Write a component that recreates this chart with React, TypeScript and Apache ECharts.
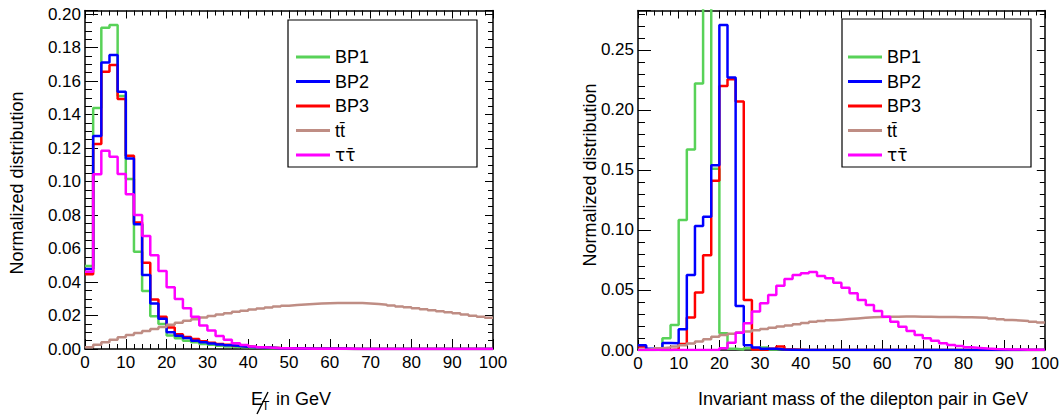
import React, { useEffect, useRef } from "react";
import * as echarts from "echarts";

const FONT = '"Liberation Sans", Arial, Helvetica, sans-serif';
const BIN_WIDTH = 2; // GeV per histogram bin
const X_TICK_STEP = 10;
const LEGEND_NAMES = ["BP1", "BP2", "BP3", "tt\u0304", "\u03c4\u03c4\u0304"];
const COLORS = ["#58d258", "#0000ff", "#ff0000", "#bf8d84", "#ff00ff"];

// ---------- Left panel: missing transverse energy ----------
const leftBP1 = [
  0.0496, 0.1439, 0.1918, 0.1934, 0.151, 0.1015, 0.058, 0.0347, 0.0195, 0.015,
  0.008, 0.0064, 0.005, 0.004, 0.003, 0.0025, 0.002, 0.0015, 0.0012, 0.001,
  0.0008, 0.0006, 0.0005, 0.0004, 0.0003, 0.0003, 0.0002, 0.0002, 0.0001, 0.0001,
  0.0001, 0, 0, 0, 0, 0, 0, 0, 0, 0,
  0, 0, 0, 0, 0, 0, 0, 0, 0, 0,
];
const leftBP2 = [
  0.0478, 0.1272, 0.1711, 0.1755, 0.1536, 0.1138, 0.0745, 0.0442, 0.0271, 0.018,
  0.01, 0.0079, 0.0065, 0.005, 0.004, 0.0033, 0.0027, 0.0022, 0.0018, 0.0014,
  0.0011, 0.0009, 0.0007, 0.0005, 0.0004, 0.0003, 0.0003, 0.0002, 0.0002, 0.0001,
  0.0001, 0.0001, 0, 0, 0, 0, 0, 0, 0, 0,
  0, 0, 0, 0, 0, 0, 0, 0, 0, 0,
];
const leftBP3 = [
  0.0446, 0.1224, 0.1656, 0.1696, 0.1493, 0.1154, 0.0755, 0.0515, 0.0295, 0.0193,
  0.0128, 0.0088, 0.0072, 0.006, 0.0047, 0.0038, 0.003, 0.0025, 0.002, 0.0016,
  0.0012, 0.001, 0.0008, 0.0006, 0.0005, 0.0004, 0.0003, 0.0002, 0.0002, 0.0001,
  0.0001, 0.0001, 0, 0, 0, 0, 0, 0, 0, 0,
  0, 0, 0, 0, 0, 0, 0, 0, 0, 0,
];
const leftTT = [
  0.001, 0.0025, 0.004, 0.0055, 0.007, 0.0083, 0.0095, 0.0108, 0.012, 0.0132,
  0.0145, 0.0157, 0.0168, 0.0178, 0.0188, 0.0197, 0.0206, 0.0214, 0.0222, 0.0229,
  0.0236, 0.0242, 0.0248, 0.0253, 0.0258, 0.0262, 0.0266, 0.0269, 0.0271, 0.0273,
  0.0274, 0.0275, 0.0275, 0.0274, 0.0272, 0.0268, 0.0264, 0.0259, 0.0254, 0.0249,
  0.0243, 0.0237, 0.0231, 0.0225, 0.0219, 0.0213, 0.0206, 0.0199, 0.0193, 0.0187,
];
const leftTauTau = [
  0.0461, 0.1043, 0.1184, 0.1148, 0.1045, 0.0924, 0.08, 0.0675, 0.056, 0.0466,
  0.0368, 0.0298, 0.0243, 0.0193, 0.014, 0.011, 0.0078, 0.0055, 0.0035, 0.0024,
  0.0015, 0.001, 0.0007, 0.0005, 0.0004, 0.0003, 0.0003, 0.0002, 0.0002, 0.0001,
  0.0001, 0.0001, 0.0001, 0, 0, 0, 0, 0, 0, 0,
  0, 0, 0, 0, 0, 0, 0, 0, 0, 0,
];
const LEFT_Y_MAX = 0.2021;
const LEFT_Y_MAJOR = 0.02;
const LEFT_Y_MINOR = 0.005;

// ---------- Right panel: dilepton invariant mass ----------
const rightBP1 = [
  0, 0, 0.0005, 0.0097, 0.0208, 0.1083, 0.167, 0.222, 0.31, 0.151,
  0.014, 0.001, 0.0005, 0.0015, 0.0008, 0.002, 0.0005, 0.001, 0.0003, 0.0002,
  0, 0, 0, 0, 0, 0, 0, 0, 0, 0,
  0, 0, 0, 0, 0, 0, 0, 0, 0, 0,
  0, 0, 0, 0, 0, 0, 0, 0, 0, 0,
];
const rightBP2 = [
  0.004, 0.001, 0.0005, 0.0058, 0.0056, 0.0172, 0.0625, 0.1033, 0.111, 0.154,
  0.2708, 0.227, 0.0367, 0.004, 0.002, 0.001, 0.001, 0.0005, 0.0003, 0,
  0, 0, 0, 0, 0, 0, 0, 0, 0, 0,
  0, 0, 0, 0, 0, 0, 0, 0, 0, 0,
  0, 0, 0, 0, 0, 0, 0, 0, 0, 0,
];
const rightBP3 = [
  0.003, 0.0005, 0, 0, 0.0005, 0.005, 0.027, 0.048, 0.079, 0.141,
  0.22, 0.2256, 0.207, 0.0417, 0.0005, 0.0003, 0.001, 0.003, 0.0005, 0.0003,
  0, 0, 0, 0, 0, 0, 0, 0, 0, 0,
  0, 0, 0, 0, 0, 0, 0, 0, 0, 0,
  0, 0, 0, 0, 0, 0, 0, 0, 0, 0,
];
const rightTT = [
  0.0003, 0.0008, 0.0015, 0.002, 0.003, 0.004, 0.0055, 0.007, 0.009, 0.011,
  0.0125, 0.0135, 0.0145, 0.0155, 0.0165, 0.0175, 0.0185, 0.0195, 0.0205, 0.0215,
  0.0225, 0.0235, 0.0242, 0.0248, 0.0253, 0.0258, 0.0263, 0.0268, 0.0272, 0.0275,
  0.0277, 0.0278, 0.0279, 0.0279, 0.0278, 0.0277, 0.0276, 0.0275, 0.0274, 0.0273,
  0.0272, 0.0271, 0.0268, 0.0262, 0.0256, 0.025, 0.0246, 0.0242, 0.0236, 0.023,
];
const rightTauTau = [
  0, 0, 0, 0, 0, 0, 0, 0, 0, 0,
  0.0014, 0.006, 0.0144, 0.0222, 0.032, 0.039, 0.0458, 0.0535, 0.0592, 0.0625,
  0.064, 0.065, 0.0617, 0.0597, 0.056, 0.0519, 0.0472, 0.0417, 0.0375, 0.0325,
  0.0278, 0.0236, 0.0194, 0.0158, 0.0125, 0.0097, 0.0078, 0.0056, 0.0042, 0.0033,
  0.0022, 0.0017, 0.0012, 0.0009, 0.0007, 0.0005, 0.0004, 0.0003, 0.0002, 0.0002,
];
const RIGHT_Y_MAX = 0.2829;
const RIGHT_Y_MAJOR = 0.05;
const RIGHT_Y_MINOR = 0.01;

const toSteps = (vals: number[]) =>
  vals
    .map((v, i) => [i * BIN_WIDTH, v])
    .concat([[vals.length * BIN_WIDTH, vals[vals.length - 1]]]);

const black = { color: "#000", width: 1 };

function xAxes(gridIndex: number) {
  const base = {
    type: "value",
    gridIndex,
    min: 0,
    max: 100,
    interval: X_TICK_STEP,
    splitLine: { show: false },
    minorSplitLine: { show: false },
  };
  return [
    {
      ...base,
      position: "bottom",
      axisLine: { show: true, onZero: false, lineStyle: { color: "#000", width: 1.5 } },
      axisTick: { show: true, inside: true, length: 10, lineStyle: black },
      minorTick: { show: true, splitNumber: 5, length: 5, lineStyle: black },
      axisLabel: { show: true, color: "#000", fontSize: 17, fontFamily: FONT, margin: 5 },
    },
    {
      ...base,
      position: "top",
      axisLine: { show: true, onZero: false, lineStyle: { color: "#000", width: 1.5 } },
      axisTick: { show: true, inside: true, length: 8, lineStyle: black },
      minorTick: { show: true, splitNumber: 5, length: 5, lineStyle: black },
      axisLabel: { show: false },
    },
  ];
}

function yAxes(gridIndex: number, max: number, major: number, minor: number) {
  const base = {
    type: "value",
    gridIndex,
    min: 0,
    max,
    splitLine: { show: false },
  };
  const fmt = (v: number) => {
    const r = v / major;
    return Math.abs(r - Math.round(r)) < 1e-6 ? v.toFixed(2) : "";
  };
  return [
    {
      ...base,
      position: "left",
      interval: major,
      axisLine: { show: true, onZero: false, lineStyle: { color: "#000", width: 1.5 } },
      axisTick: { show: true, inside: true, length: 13, lineStyle: black },
      axisLabel: { show: true, color: "#000", fontSize: 17, fontFamily: FONT, margin: 4, formatter: fmt },
    },
    {
      ...base,
      position: "left",
      interval: minor,
      axisLine: { show: false, onZero: false },
      axisTick: { show: true, inside: true, length: 7, lineStyle: black },
      axisLabel: { show: false },
    },
    {
      ...base,
      position: "right",
      interval: major,
      axisLine: { show: true, onZero: false, lineStyle: { color: "#000", width: 1.5 } },
      axisTick: { show: true, inside: true, length: 8, lineStyle: black },
      axisLabel: { show: false },
    },
    {
      ...base,
      position: "right",
      interval: minor,
      axisLine: { show: false, onZero: false },
      axisTick: { show: true, inside: true, length: 5, lineStyle: black },
      axisLabel: { show: false },
    },
  ];
}

function histSeries(grid: number, sets: number[][]) {
  // draw order: BP1, BP3, BP2, tt, tautau
  const order = [0, 2, 1, 3, 4];
  return order.map((k) => ({
    type: "line",
    name: LEGEND_NAMES[k],
    xAxisIndex: grid * 2,
    yAxisIndex: grid * 4,
    step: "end",
    symbol: "none",
    showSymbol: false,
    clip: true,
    color: COLORS[k],
    itemStyle: { color: COLORS[k] },
    lineStyle: { color: COLORS[k], width: 2.5 },
    data: toSteps(sets[k]),
    silent: true,
  }));
}

function legend(left: number) {
  return {
    data: LEGEND_NAMES,
    orient: "vertical",
    left,
    top: 48,
    padding: 0,
    icon: "rect",
    itemWidth: 34,
    itemHeight: 3,
    itemGap: 6.5,
    selectedMode: false,
    formatter: (name: string) => (name === LEGEND_NAMES[4] ? "{g|" + name + "}" : name),
    textStyle: {
      color: "#000",
      fontSize: 18,
      lineHeight: 18,
      fontFamily: FONT,
      rich: {
        g: { color: "#000", fontSize: 17, lineHeight: 18, fontFamily: '"DejaVu Sans", sans-serif' },
      },
    },
  };
}

function txt(x: number, y: number, text: string, size: number, align = "center", rotation = 0) {
  return {
    type: "text",
    x,
    y,
    rotation,
    style: {
      text,
      fill: "#000",
      fontSize: size,
      fontFamily: FONT,
      align,
      verticalAlign: "middle",
      textAlign: align,
      textVerticalAlign: "middle",
    },
  };
}

export default function App() {
  const ref = useRef<HTMLDivElement>(null);
  useEffect(() => {
    if (!ref.current) return;
    const chart = echarts.init(ref.current, null, { renderer: "svg" });
    const option = {
      animation: false,
      backgroundColor: "#fff",
      grid: [
        { left: 85, top: 10.5, width: 408, height: 338.5 },
        { left: 638, top: 10.5, width: 409, height: 339.5 },
      ],
      xAxis: [...xAxes(0), ...xAxes(1)],
      yAxis: [
        ...yAxes(0, LEFT_Y_MAX, LEFT_Y_MAJOR, LEFT_Y_MINOR),
        ...yAxes(1, RIGHT_Y_MAX, RIGHT_Y_MAJOR, RIGHT_Y_MINOR),
      ],
      legend: [legend(296), legend(848)],
      series: [
        ...histSeries(0, [leftBP1, leftBP2, leftBP3, leftTT, leftTauTau]),
        ...histSeries(1, [rightBP1, rightBP2, rightBP3, rightTT, rightTauTau]),
      ],
      graphic: [
        {
          type: "rect",
          shape: { x: 288, y: 20, width: 189, height: 147 },
          style: { fill: "none", stroke: "#000", lineWidth: 1.2 },
        },
        {
          type: "rect",
          shape: { x: 842, y: 19, width: 189, height: 148 },
          style: { fill: "none", stroke: "#000", lineWidth: 1.2 },
        },
        txt(17, 183, "Normalized distribution", 18, "center", Math.PI / 2),
        txt(590, 175, "Normalized distribution", 18, "center", Math.PI / 2),
        txt(863, 399, "Invariant mass of the dilepton pair in GeV", 18, "center"),
        txt(251, 399, "E", 18, "left"),
        txt(262, 406, "T", 12, "left"),
        txt(276, 399, "in GeV", 18, "left"),
        {
          type: "line",
          shape: { x1: 268, y1: 392, x2: 257, y2: 414 },
          style: { stroke: "#000", lineWidth: 1.4 },
        },
      ],
    };
    chart.setOption(option as any);
    return () => chart.dispose();
  }, []);
  return (
    <div
      ref={ref}
      style={{ position: "absolute", left: 0, top: 0, width: 1062, height: 419 }}
    />
  );
}
